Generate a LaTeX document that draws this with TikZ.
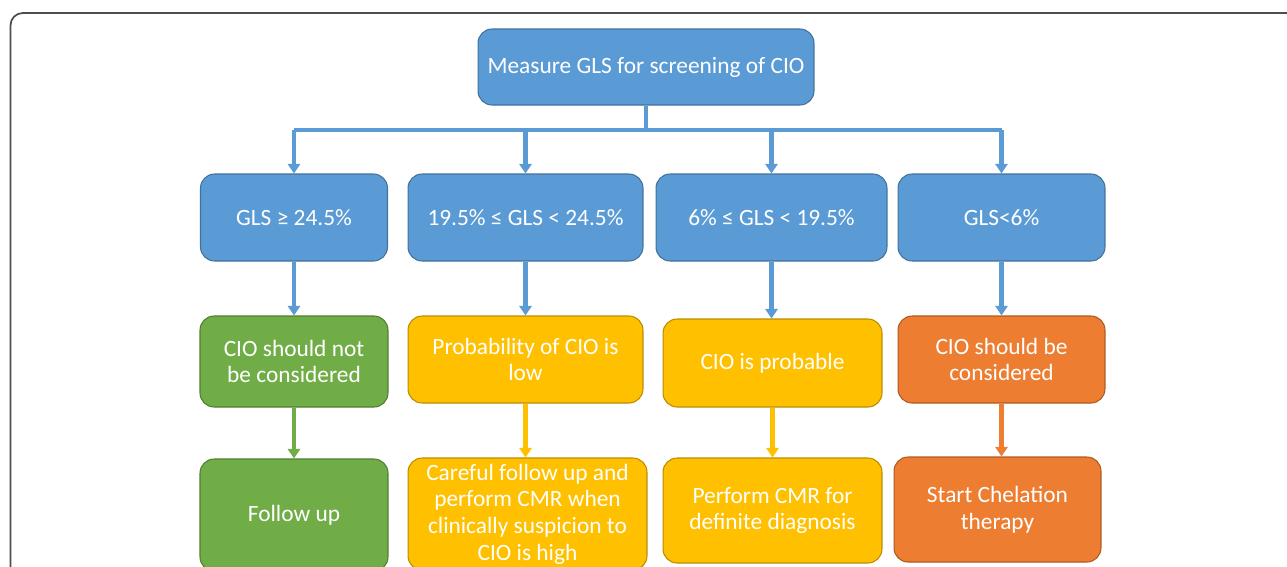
\documentclass[tikz,border=0pt]{standalone}
\usepackage{fontspec}
\setmainfont{Carlito}
\usetikzlibrary{arrows.meta, positioning}
\definecolor{boxblue}{HTML}{5B9BD5}
\definecolor{blueedge}{HTML}{41719C}
\definecolor{boxgreen}{HTML}{70AD47}
\definecolor{greenedge}{HTML}{507E32}
\definecolor{boxgold}{HTML}{FFC000}
\definecolor{goldedge}{HTML}{BC8C00}
\definecolor{boxorange}{HTML}{ED7D31}
\definecolor{orangeedge}{HTML}{AE5A21}
\definecolor{framegray}{HTML}{4D4D4D}

\begin{document}
\begin{tikzpicture}[
    x=0.02cm, y=-0.02cm,
    >={Triangle[length=5.5pt, width=7pt]},
    % --- node styles ---
    basebox/.style={
        rectangle, rounded corners=8pt, align=center, inner sep=2pt,
        line width=0.6pt, text=white, font=\fontsize{13.3}{15.2}\selectfont
    },
    bluebox/.style={basebox, draw=blueedge, fill=boxblue},
    greenbox/.style={basebox, draw=greenedge, fill=boxgreen},
    goldbox/.style={basebox, draw=goldedge, fill=boxgold},
    orangebox/.style={basebox, draw=orangeedge, fill=boxorange},
    blueline/.style={line width=2.5pt, color=boxblue},
    bluearrow/.style={->, blueline},
    greenarrow/.style={->, line width=2.5pt, color=boxgreen},
    goldarrow/.style={->, line width=2.5pt, color=boxgold},
    orangearrow/.style={->, line width=2.5pt, color=boxorange},
    frame/.style={draw=framegray, line width=1pt, rounded corners=7pt},
]
\useasboundingbox (0,0) rectangle (1287,566);
\clip (0,0) rectangle (1287,566);

% outer frame
\draw[frame] (10.5,590) |- (1310,13);

% ===== TOP =====
\node[bluebox, minimum width=6.72cm, minimum height=1.52cm] (measure) at (646,67)
    {Measure GLS for screening of CIO};

% ===== GLS RANGES =====
\node[bluebox, minimum width=3.74cm, minimum height=1.74cm] (glshigh) at (294,217.5) {GLS ≥ 24.5\%};
\node[bluebox, minimum width=4.70cm, minimum height=1.74cm] (glsmid) at (525.5,217.5) {19.5\% ≤ GLS < 24.5\%};
\node[bluebox, minimum width=4.62cm, minimum height=1.74cm] (glslow) at (771.5,217.5) {6\% ≤ GLS < 19.5\%};
\node[bluebox, minimum width=4.14cm, minimum height=1.74cm] (glsvlow) at (1001.5,217.5) {GLS<6\%};

\coordinate (bus) at (646,130);
\draw[blueline] (measure.south) -- (bus);
\draw[blueline] (glshigh.north |- bus) -- (glsvlow.north |- bus);
\foreach \n in {glshigh, glsmid, glslow, glsvlow}
    \draw[bluearrow] (\n.north |- bus) -- (\n.north);

% ===== ASSESSMENT =====
\node[greenbox, minimum width=3.76cm, minimum height=1.82cm] (nocio) at (294,361.5)
    {CIO should not\\be considered};
\node[goldbox, minimum width=4.70cm, minimum height=1.74cm] (lowcio) at (525.5,359.5)
    {Probability of CIO is\\low};
\node[goldbox, minimum width=4.38cm, minimum height=1.76cm] (probcio) at (772.5,363)
    {CIO is probable};
\node[orangebox, minimum width=4.14cm, minimum height=1.74cm] (yescio) at (1001.5,359.5)
    {CIO should be\\considered};

\draw[bluearrow] (glshigh.south) -- (glshigh.south |- nocio.north);
\draw[bluearrow] (glsmid.south) -- (glsmid.south |- lowcio.north);
\draw[bluearrow] (glslow.south) -- (glslow.south |- probcio.north);
\draw[bluearrow] (glsvlow.south) -- (glsvlow.south |- yescio.north);

% ===== ACTIONS =====
\node[greenbox, minimum width=3.76cm, minimum height=2.24cm] (followup) at (294,515)
    {Follow up};
\node[goldbox, minimum width=4.78cm, minimum height=2.24cm] (careful) at (527.5,514)
    {Careful follow up and\\perform CMR when\\clinically suspicion to\\CIO is high};
\node[goldbox, minimum width=4.38cm, minimum height=2.10cm] (cmr) at (772.5,510.5)
    {Perform CMR for\\definite diagnosis};
\node[orangebox, minimum width=4.14cm, minimum height=2.10cm] (chelation) at (997.5,509.5)
    {Start Chelation\\therapy};

\draw[greenarrow] (nocio.south) -- (nocio.south |- followup.north);
\draw[goldarrow] (lowcio.south) -- (lowcio.south |- careful.north);
\draw[goldarrow] (probcio.south) -- (probcio.south |- cmr.north);
\draw[orangearrow] (yescio.south) -- (yescio.south |- chelation.north);

\end{tikzpicture}
\end{document}
